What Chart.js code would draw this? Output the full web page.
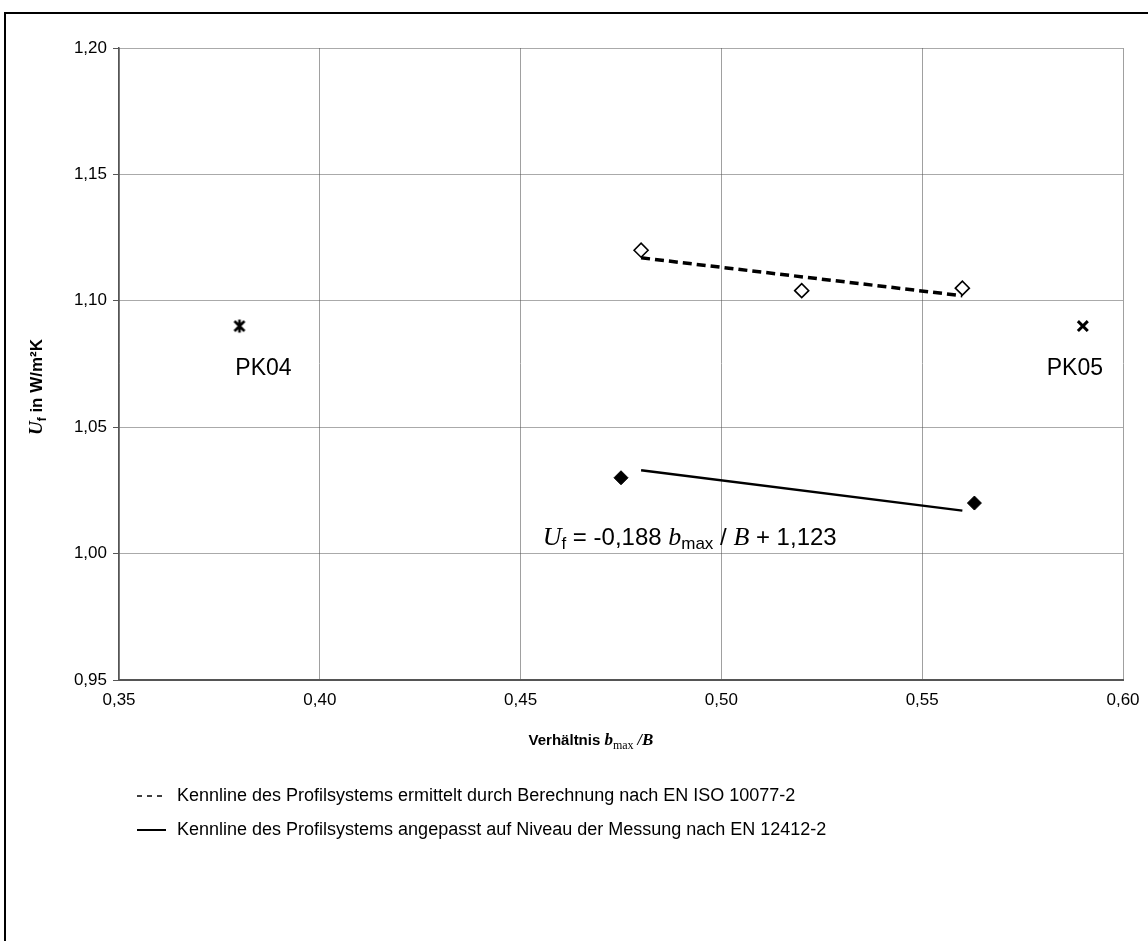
<!DOCTYPE html>
<html>
<head>
<meta charset="utf-8">
<script src="https://cdn.jsdelivr.net/npm/chart.js@4/dist/chart.umd.min.js"></script>
<style>
  body { margin: 0; background: #fff; }
  #wrap { position: relative; width: 1148px; height: 941px; }
</style>
</head>
<body>
<div id="wrap"><canvas id="c" width="1148" height="941"></canvas></div>
<script>
// values
const pk04X = [0.38], pk04Y = [1.09];
const pk05X = [0.59], pk05Y = [1.09];
const calcX = [0.48, 0.52, 0.56], calcY = [1.12, 1.104, 1.105];
const calcFitX = [0.48, 0.56], calcFitY = [1.117, 1.102];
const measX = [0.475, 0.563], measY = [1.03, 1.02];
const measFitX = [0.48, 0.56], measFitY = [1.033, 1.017];
const pointLabels = [
  { text: 'PK04', x: 0.38, y: 1.09, dx: 24, dy: 49 },
  { text: 'PK05', x: 0.59, y: 1.09, dx: -8, dy: 49 }
];
const eqPos = [0.4555, 1.0035];
const legendItems = [
  { text: 'Kennline des Profilsystems ermittelt durch Berechnung nach EN ISO 10077-2', dash: [5, 5], width: 1.4 },
  { text: 'Kennline des Profilsystems angepasst auf Niveau der Messung nach EN 12412-2', dash: [], width: 2 }
];

const SANS = '"Liberation Sans", Arial, sans-serif';
const SERIF = '"Liberation Serif", "Times New Roman", serif';

function pts(xs, ys) {
  return xs.map((x, i) => ({ x: x, y: ys[i] }));
}

// asterisk marker like the Excel one (x with a vertical bar)
function starMarker() {
  const cv = document.createElement('canvas');
  cv.width = 16; cv.height = 16;
  const g = cv.getContext('2d');
  g.strokeStyle = '#000';
  g.lineWidth = 2.6;
  g.beginPath();
  g.moveTo(3, 3); g.lineTo(13, 13);
  g.moveTo(13, 3); g.lineTo(3, 13);
  g.moveTo(8, 1.5); g.lineTo(8, 14.5);
  g.stroke();
  return cv;
}

// draw a line of text made of several runs (font, offset)
function drawRuns(ctx, runs, x, y) {
  let cx = x;
  runs.forEach(r => {
    ctx.font = r.font;
    ctx.fillText(r.t, cx, y + (r.dy || 0));
    cx += ctx.measureText(r.t).width;
  });
  return cx;
}
function runsWidth(ctx, runs) {
  let w = 0;
  runs.forEach(r => { ctx.font = r.font; w += ctx.measureText(r.t).width; });
  return w;
}

const decorations = {
  id: 'decorations',
  beforeDraw(chart) {
    const ctx = chart.ctx;
    ctx.save();
    ctx.fillStyle = '#fff';
    ctx.fillRect(0, 0, chart.width, chart.height);
    ctx.strokeStyle = '#000';
    ctx.lineWidth = 2;
    ctx.beginPath();
    ctx.moveTo(5, chart.height + 5);
    ctx.lineTo(5, 13);
    ctx.lineTo(chart.width + 5, 13);
    ctx.stroke();
    ctx.restore();
  },
  afterDraw(chart) {
    const ctx = chart.ctx;
    const xs = chart.scales.x, ys = chart.scales.y;
    const area = chart.chartArea;
    ctx.save();
    ctx.fillStyle = '#000';
    ctx.textBaseline = 'alphabetic';
    ctx.textAlign = 'left';

    // point labels
    ctx.font = '23px ' + SANS;
    ctx.textAlign = 'center';
    pointLabels.forEach(p => {
      ctx.fillText(p.text, xs.getPixelForValue(p.x) + p.dx, ys.getPixelForValue(p.y) + p.dy);
    });
    ctx.textAlign = 'left';

    // regression equation
    const eqRuns = [
      { t: 'U', font: 'italic 26px ' + SERIF },
      { t: 'f', font: '17px ' + SANS, dy: 4 },
      { t: ' = -0,188 ', font: '24px ' + SANS },
      { t: 'b', font: 'italic 26px ' + SERIF },
      { t: 'max', font: '17px ' + SANS, dy: 4 },
      { t: ' / ', font: '24px ' + SANS },
      { t: 'B', font: 'italic 26px ' + SERIF },
      { t: ' + 1,123', font: '24px ' + SANS }
    ];
    drawRuns(ctx, eqRuns, xs.getPixelForValue(eqPos[0]), ys.getPixelForValue(eqPos[1]));

    // x axis title
    const xtRuns = [
      { t: 'Verhältnis ', font: 'bold 15px ' + SANS },
      { t: 'b', font: 'bold italic 17px ' + SERIF },
      { t: 'max', font: '12px ' + SERIF, dy: 4 },
      { t: ' /', font: 'bold italic 16px ' + SERIF },
      { t: 'B', font: 'bold italic 17px ' + SERIF }
    ];
    const xtW = runsWidth(ctx, xtRuns);
    drawRuns(ctx, xtRuns, 591 - xtW / 2, area.bottom + 65);

    // y axis title
    const ytRuns = [
      { t: 'U', font: 'bold italic 19px ' + SERIF },
      { t: 'f', font: 'bold 12px ' + SANS, dy: 4 },
      { t: ' in W/m²K', font: 'bold 17px ' + SANS }
    ];
    const ytW = runsWidth(ctx, ytRuns);
    ctx.translate(42, 387);
    ctx.rotate(-Math.PI / 2);
    drawRuns(ctx, ytRuns, -ytW / 2, 0);
    ctx.setTransform(1, 0, 0, 1, 0, 0);

    // legend
    legendItems.forEach((it, i) => {
      const y = area.bottom + 116 + i * 34;
      ctx.strokeStyle = '#000';
      ctx.lineWidth = it.width;
      ctx.setLineDash(it.dash);
      ctx.beginPath();
      ctx.moveTo(137, y);
      ctx.lineTo(166, y);
      ctx.stroke();
      ctx.setLineDash([]);
      ctx.font = '18px ' + SANS;
      ctx.textBaseline = 'middle';
      ctx.fillText(it.text, 177, y);
    });
    ctx.restore();
  }
};

const commaFmt = v => v.toFixed(2).replace('.', ',');

new Chart(document.getElementById('c'), {
  type: 'scatter',
  data: {
    datasets: [
      {
        label: 'calc fit', data: pts(calcFitX, calcFitY), showLine: true,
        borderColor: '#000', borderWidth: 3.5, borderDash: [9, 5], pointRadius: 0
      },
      {
        label: 'meas fit', data: pts(measFitX, measFitY), showLine: true,
        borderColor: '#000', borderWidth: 2.5, pointRadius: 0
      },
      {
        label: 'calc', data: pts(calcX, calcY), pointStyle: 'rectRot', pointRadius: 7,
        backgroundColor: '#fff', borderColor: '#000', borderWidth: 1.6
      },
      {
        label: 'meas', data: pts(measX, measY), pointStyle: 'rectRot', pointRadius: 7,
        backgroundColor: '#000', borderColor: '#000', borderWidth: 1
      },
      {
        label: 'PK04', data: pts(pk04X, pk04Y), pointStyle: starMarker(),
        borderColor: '#000'
      },
      {
        label: 'PK05', data: pts(pk05X, pk05Y), pointStyle: 'crossRot', pointRadius: 7,
        borderColor: '#000', borderWidth: 3
      }
    ]
  },
  options: {
    responsive: false,
    animation: false,
    devicePixelRatio: 1,
    layout: { padding: { left: 0, top: 48, right: 25, bottom: 231 } },
    plugins: { legend: { display: false }, tooltip: { enabled: false } },
    scales: {
      x: {
        type: 'linear', min: 0.35, max: 0.60,
        // fixed height, and no extra room for the last tick label
        afterFit: s => { s.height = 30; s.paddingRight = 0; s.paddingLeft = 0; },
        ticks: { stepSize: 0.05, callback: commaFmt, color: '#000', padding: 10,
          font: { family: SANS, size: 17 } },
        grid: { color: '#a0a0a0', lineWidth: 1, drawTicks: false },
        border: { color: '#555', width: 2 }
      },
      y: {
        type: 'linear', min: 0.95, max: 1.20,
        afterFit: s => { s.width = 119; },
        ticks: { stepSize: 0.05, callback: commaFmt, color: '#000', padding: 6,
          font: { family: SANS, size: 17 } },
        grid: { color: '#555', lineWidth: 1, tickLength: 6, tickColor: '#555',
          tickBorderDash: [] },
        // in Chart.js v4 border.dash styles the grid lines: dotted like the original
        border: { color: '#555', width: 1.5, dash: [1, 1] }
      }
    }
  },
  plugins: [decorations]
});
</script>
</body>
</html>
